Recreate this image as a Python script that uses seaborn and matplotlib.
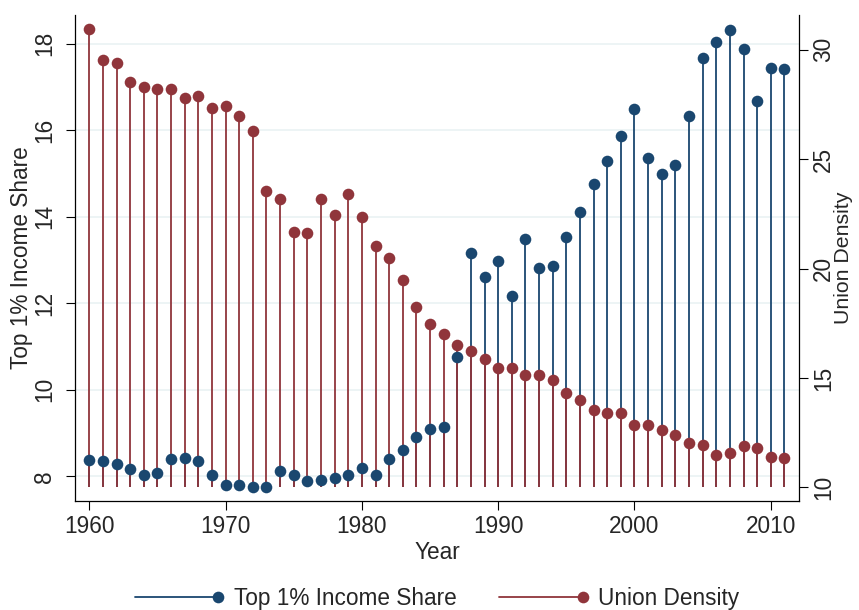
import numpy as np
import pandas as pd
import matplotlib
matplotlib.use("Agg")
import matplotlib.pyplot as plt
from matplotlib.lines import Line2D
from matplotlib.legend_handler import HandlerBase
import seaborn as sns

# ---------------- data ----------------
years = list(range(1960, 2012))
top1_share = [8.37, 8.36, 8.28, 8.17, 8.03, 8.08, 8.39, 8.43, 8.36, 8.03,
              7.80, 7.79, 7.76, 7.75, 8.13, 8.02, 7.90, 7.92, 7.96, 8.04,
              8.20, 8.03, 8.40, 8.60, 8.90, 9.10, 9.14, 10.75, 13.17, 12.61,
              12.97, 12.17, 13.48, 12.82, 12.85, 13.52, 14.11, 14.76, 15.29, 15.86,
              16.48, 15.36, 14.99, 15.20, 16.33, 17.67, 18.04, 18.32, 17.88, 16.67,
              17.44, 17.42]
union_density = [30.92, 29.52, 29.37, 28.53, 28.30, 28.18, 28.20, 27.77, 27.89, 27.32,
                 27.43, 26.96, 26.28, 23.55, 23.17, 21.65, 21.63, 23.17, 22.43, 23.42,
                 22.35, 21.03, 20.49, 19.46, 18.23, 17.45, 17.00, 16.51, 16.25, 15.87,
                 15.47, 15.47, 15.14, 15.12, 14.91, 14.32, 14.01, 13.55, 13.40, 13.39,
                 12.85, 12.87, 12.64, 12.38, 12.03, 11.96, 11.48, 11.59, 11.91, 11.80,
                 11.39, 11.33]
x_ticks = [1960, 1970, 1980, 1990, 2000, 2010]
left_ticks = [8, 10, 12, 14, 16, 18]
right_ticks = [10, 15, 20, 25, 30]
series_labels = ["Top 1% Income Share", "Union Density"]

df = pd.DataFrame({"Year": years, "Top1": top1_share, "Union": union_density})

# ---------------- style ----------------
sns.set_style("white")
plt.rcParams["font.family"] = ["Liberation Sans", "DejaVu Sans"]
BLUE = "#1a476f"
RED = "#90353b"
GRID = "#eaf2f3"
FS = 16.3

W, H = 859, 610
fig = plt.figure(figsize=(W / 100, H / 100), dpi=100)
ax = fig.add_axes([75 / W, 1 - 501 / H, (799 - 75) / W, (501 - 15) / H])
ax2 = ax.twinx()

# stems
ax.vlines(df["Year"], min(top1_share), df["Top1"], color=BLUE, lw=1.3, zorder=2)
ax.vlines(df["Year"], right_ticks[0], df["Union"], color=RED, lw=1.3, zorder=2.1,
          transform=ax2.transData)
# markers
sns.scatterplot(data=df, x="Year", y="Top1", ax=ax, color=BLUE, s=70,
                linewidth=0, zorder=3, legend=False)
sns.scatterplot(data=df, x="Year", y="Union", ax=ax, color=RED, s=70,
                linewidth=0, zorder=3.1, legend=False, transform=ax2.transData)

ax.set_xlim(1958.95, 2012.07)
ax.set_ylim(7.43, 18.66)
ax2.set_ylim(9.38, 31.58)

# grid
ax.grid(axis="y", color=GRID, lw=1.2)
ax.grid(axis="x", visible=False)
ax2.grid(False)
ax.set_axisbelow(True)

# spines
for a in (ax, ax2):
    a.spines["top"].set_visible(False)
    for s in ("left", "bottom", "right"):
        a.spines[s].set_color("#000000")
        a.spines[s].set_linewidth(0.9)
ax.spines["right"].set_visible(False)
ax2.spines["left"].set_visible(False)
ax2.spines["bottom"].set_visible(False)

# ticks
ax.set_xticks(x_ticks)
ax.set_xticklabels([str(t) for t in x_ticks], fontsize=FS)
ax.set_yticks(left_ticks)
ax.set_yticklabels([str(t) for t in left_ticks], fontsize=FS, rotation=90, va="center")
ax2.set_yticks(right_ticks)
ax2.set_yticklabels([str(t) for t in right_ticks], fontsize=FS, rotation=90, va="center")

ax.tick_params(axis="x", direction="out", length=6.5, width=0.8, color="#000000",
               pad=3.5, bottom=True)
ax.tick_params(axis="y", direction="out", length=6.5, width=0.8, color="#000000",
               pad=7, left=True)
ax2.tick_params(axis="y", direction="out", length=6.5, width=0.8, color="#000000",
                pad=3, right=True)

ax.set_xlabel("Year", fontsize=FS, labelpad=2)
ax.set_ylabel("Top 1% Income Share", fontsize=FS, labelpad=0)
ax2.set_ylabel("Union Density", fontsize=15.3, labelpad=-0.8, rotation=90)


# legend: line with the marker at its right end
class EndMarkerHandler(HandlerBase):
    def create_artists(self, legend, orig_handle, xdescent, ydescent,
                       width, height, fontsize, trans):
        y = (height - ydescent) / 2
        x0, x1 = -xdescent, -xdescent + width
        line = Line2D([x0, x1], [y, y], color=orig_handle.get_color(),
                      lw=orig_handle.get_linewidth())
        mk = Line2D([x1], [y], linestyle="none", marker="o",
                    markersize=orig_handle.get_markersize(),
                    markerfacecolor=orig_handle.get_color(), markeredgewidth=0)
        line.set_transform(trans)
        mk.set_transform(trans)
        return [line, mk]


handles = [
    Line2D([], [], color=BLUE, lw=1.3, marker="o", markersize=8.4),
    Line2D([], [], color=RED, lw=1.3, marker="o", markersize=8.4),
]
fig.legend(handles, series_labels, loc="center",
           bbox_to_anchor=(437 / W, 1 - 598 / H), ncol=2, frameon=False,
           fontsize=FS, handlelength=3.7, handletextpad=0.7, columnspacing=1.85,
           handler_map={Line2D: EndMarkerHandler()})

fig.savefig("out.png", dpi=100)
